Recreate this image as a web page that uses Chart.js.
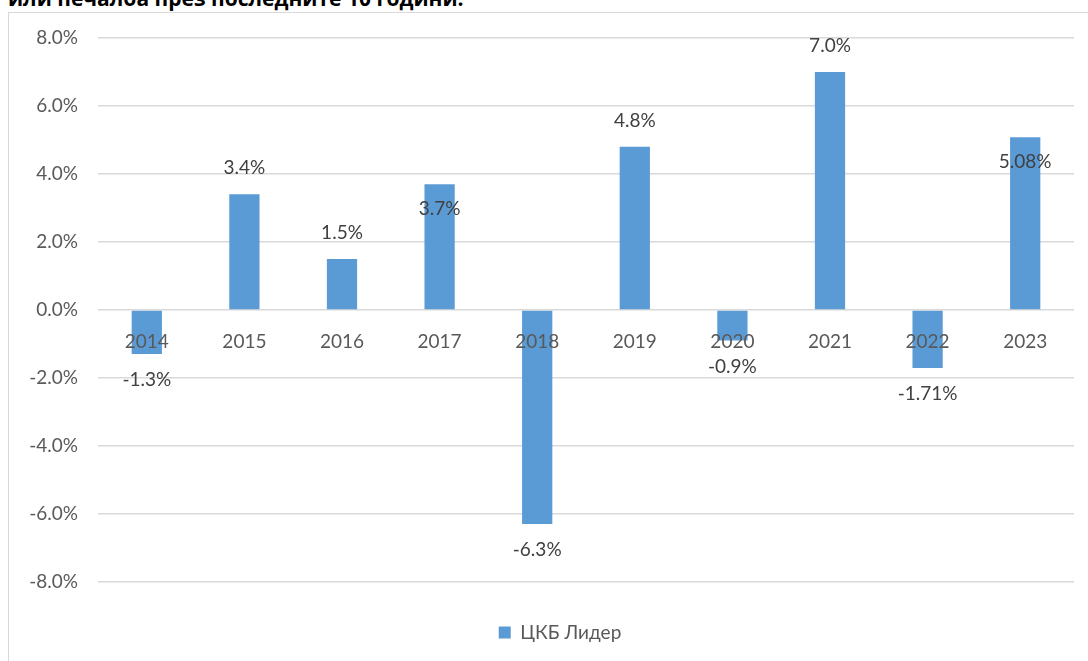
<!DOCTYPE html>
<html>
<head>
<meta charset="utf-8">
<script src="https://cdn.jsdelivr.net/npm/chart.js@4/dist/chart.umd.min.js"></script>
<style>
body{margin:0;background:#fff;width:1088px;height:661px;overflow:hidden;position:relative;font-family:Lato,"Open Sans",sans-serif}
#title{position:absolute;left:8px;top:-12px;font-size:21px;line-height:20px;font-weight:bold;color:#000;white-space:nowrap;font-family:"Open Sans",sans-serif}
#box{position:absolute;left:8px;top:12px;width:1090px;height:660px;border:1px solid #d9d9d9;box-sizing:border-box}
#wrap{position:absolute;left:0;top:0;width:1088px;height:661px}
</style>
</head>
<body>
<div id="title">или печалба през последните 10 години.</div>
<div id="box"></div>
<div id="wrap"><canvas id="myChart" width="1088" height="661"></canvas></div>
<script>
const years = ["2014","2015","2016","2017","2018","2019","2020","2021","2022","2023"]
const values = [-1.3, 3.4, 1.5, 3.7, -6.3, 4.8, -0.9, 7.0, -1.71, 5.08]
const valueLabels = ["-1.3%","3.4%","1.5%","3.7%","-6.3%","4.8%","-0.9%","7.0%","-1.71%","5.08%"]
// where the label sits: outside the bar end, or just inside it
const labelSide = ["out","out","out","in","out","out","out","out","out","in"]
const seriesName = "ЦКБ Лидер"

const fontFam = "Lato, 'Open Sans', sans-serif"

const barLabels = {
    id: "barLabels",
    afterDatasetsDraw(chart){
        const ctx = chart.ctx
        const meta = chart.getDatasetMeta(0)
        ctx.save()
        ctx.font = "19px " + fontFam
        ctx.fillStyle = "#404040"
        ctx.textAlign = "center"
        ctx.textBaseline = "middle"
        meta.data.forEach((bar, i) => {
            const up = values[i] >= 0
            let off = 26
            if (labelSide[i] === "in") off = -25
            const y = up ? bar.y - off : bar.y + off
            ctx.fillText(valueLabels[i], bar.x, y)
        })
        ctx.restore()
    }
}

// the legend in the original is centred on the whole frame, a bit right of the canvas middle
const legendShift = {
    id: "legendShift",
    afterLayout(chart){
        chart.legend.left += 23
        chart.legend.right += 23
    }
}

const ctx = document.getElementById("myChart")
new Chart(ctx, {
    type: "bar",
    data: {
        labels: years,
        datasets: [{
            label: seriesName,
            data: values,
            backgroundColor: "#5b9bd5",
            borderWidth: 0,
            barPercentage: 0.62,
            categoryPercentage: 0.5
        }]
    },
    options: {
        responsive: false,
        animation: false,
        devicePixelRatio: 1,
        layout: {padding: {left: 0, right: 14, top: 38, bottom: 9}},
        plugins: {
            tooltip: {enabled: false},
            legend: {
                position: "bottom",
                title: {display: true, text: " ", font: {size: 1}, padding: {top: 0, bottom: 30}},
                labels: {
                    boxWidth: 12,
                    boxHeight: 12,
                    color: "#595959",
                    padding: 10,
                    font: {family: fontFam, size: 19}
                }
            }
        },
        scales: {
            x: {
                position: {y: 0},
                grid: {display: false},
                border: {display: false},
                ticks: {
                    z: 1,
                    color: "#595959",
                    padding: 13,
                    font: {family: fontFam, size: 19}
                }
            },
            y: {
                min: -8,
                max: 8,
                afterFit(scale){ scale.width = 98 },
                grid: {color: "#d9d9d9", lineWidth: 1.5, drawTicks: false},
                border: {display: false},
                ticks: {
                    stepSize: 2,
                    color: "#595959",
                    padding: 20,
                    font: {family: fontFam, size: 19},
                    callback: (v) => v.toFixed(1) + "%"
                }
            }
        }
    },
    plugins: [barLabels, legendShift]
})
</script>
</body>
</html>
